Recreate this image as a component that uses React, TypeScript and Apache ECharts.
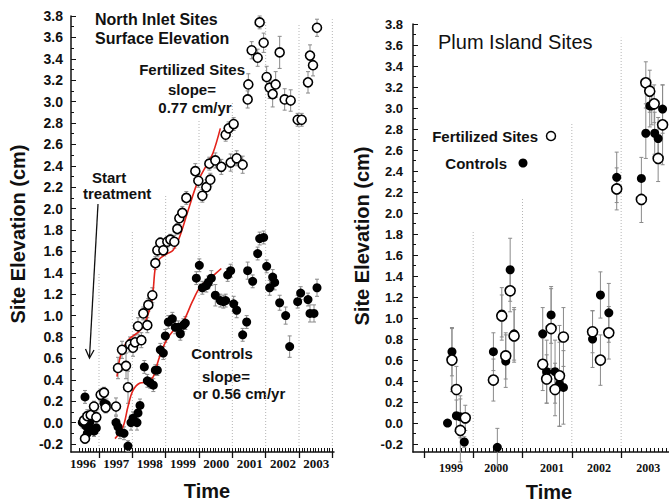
import React, { useEffect, useRef } from "react";
import * as echarts from "echarts";

// ---------- North Inlet (left panel): [time, elevation, error] ----------
const NI_FERT: number[][] = [
  [1996.55, 0.02, 0.06], [1996.58, -0.15, 0.04], [1996.65, 0.06, 0.06], [1996.75, 0.07, 0.05],
  [1996.85, 0.15, 0.05], [1996.92, 0.05, 0.06], [1997.05, 0.26, 0.05], [1997.15, 0.28, 0.05],
  [1997.2, 0.14, 0.05], [1997.51, 0.15, 0.08], [1997.57, 0.51, 0.1], [1997.69, 0.68, 0.08],
  [1997.81, 0.53, 0.12], [1997.87, 0.33, 0.15], [1997.93, 0.73, 0.07], [1998.02, 0.7, 0.08],
  [1998.08, 0.75, 0.07], [1998.17, 0.9, 0.08], [1998.27, 0.77, 0.07], [1998.33, 1.02, 0.06],
  [1998.45, 0.91, 0.07], [1998.48, 1.1, 0.06], [1998.6, 1.19, 0.07], [1998.69, 1.49, 0.06],
  [1998.75, 1.61, 0.06], [1998.84, 1.68, 0.05], [1998.93, 1.61, 0.05], [1999.05, 1.69, 0.05],
  [1999.14, 1.71, 0.05], [1999.26, 1.69, 0.06], [1999.35, 1.81, 0.05], [1999.41, 1.91, 0.06],
  [1999.5, 1.96, 0.06], [1999.62, 2.1, 0.06], [1999.89, 2.35, 0.07], [1999.98, 2.26, 0.06],
  [2000.1, 2.12, 0.06], [2000.22, 2.2, 0.07], [2000.34, 2.27, 0.06], [2000.31, 2.42, 0.06],
  [2000.49, 2.45, 0.07], [2000.67, 2.39, 0.07], [2000.8, 2.69, 0.06], [2000.89, 2.75, 0.06],
  [2001.04, 2.79, 0.06], [2000.95, 2.43, 0.08], [2001.13, 2.47, 0.07], [2001.31, 2.41, 0.08],
  [2001.46, 3.02, 0.08], [2001.48, 3.16, 0.1], [2001.58, 3.48, 0.08], [2001.76, 3.41, 0.08],
  [2001.82, 3.74, 0.06], [2001.94, 3.55, 0.09], [2002.03, 3.23, 0.1], [2002.12, 3.13, 0.1],
  [2002.21, 3.07, 0.12], [2002.3, 3.16, 0.12], [2002.42, 3.46, 0.15], [2002.57, 3.02, 0.1],
  [2002.75, 3.01, 0.1], [2002.96, 2.83, 0.06], [2003.08, 2.83, 0.06], [2003.27, 3.18, 0.1],
  [2003.33, 3.43, 0.1], [2003.42, 3.34, 0.1], [2003.54, 3.69, 0.08],
];

const NI_CTRL: number[][] = [
  [1996.5, 0.0, 0.05], [1996.58, 0.24, 0.06], [1996.6, -0.03, 0.05], [1996.65, -0.1, 0.05],
  [1996.72, 0.0, 0.05], [1996.78, -0.06, 0.04], [1996.85, -0.08, 0.05], [1996.92, -0.05, 0.05],
  [1997.05, 0.25, 0.05], [1997.1, 0.27, 0.05], [1997.15, 0.18, 0.06], [1997.22, 0.17, 0.05],
  [1997.51, 0.0, 0.06], [1997.57, -0.04, 0.07], [1997.63, -0.09, 0.06], [1997.75, -0.1, 0.06],
  [1997.87, -0.22, 0.05], [1997.96, 0.0, 0.07], [1998.02, 0.04, 0.06], [1998.14, 0.0, 0.07],
  [1998.17, 0.09, 0.06], [1998.23, 0.16, 0.06], [1998.36, 0.52, 0.06], [1998.45, 0.39, 0.06],
  [1998.54, 0.37, 0.05], [1998.63, 0.35, 0.06], [1998.69, 0.49, 0.05], [1998.75, 0.49, 0.05],
  [1998.84, 0.68, 0.06], [1998.93, 0.65, 0.06], [1998.99, 0.81, 0.06], [1999.08, 0.94, 0.06],
  [1999.2, 0.97, 0.06], [1999.29, 0.89, 0.06], [1999.38, 0.89, 0.06], [1999.44, 0.83, 0.06],
  [1999.53, 0.91, 0.06], [1999.59, 0.93, 0.06], [1999.92, 1.35, 0.06], [2000.01, 1.47, 0.06],
  [2000.1, 1.26, 0.06], [2000.22, 1.28, 0.06], [2000.28, 1.31, 0.06], [2000.37, 1.35, 0.07],
  [2000.49, 1.19, 0.1], [2000.64, 1.14, 0.06], [2000.73, 1.13, 0.06], [2000.8, 1.14, 0.06],
  [2000.86, 1.38, 0.06], [2000.95, 1.42, 0.06], [2001.04, 1.11, 0.07], [2001.13, 1.05, 0.07],
  [2001.31, 0.82, 0.06], [2001.43, 0.94, 0.06], [2001.46, 1.42, 0.08], [2001.61, 1.32, 0.06],
  [2001.76, 1.58, 0.06], [2001.82, 1.72, 0.06], [2001.94, 1.73, 0.06], [2002.03, 1.46, 0.06],
  [2002.12, 1.26, 0.07], [2002.21, 1.36, 0.07], [2002.27, 1.31, 0.07], [2002.42, 1.12, 0.07],
  [2002.6, 1.0, 0.08], [2002.72, 0.71, 0.1], [2002.96, 1.13, 0.06], [2003.05, 1.21, 0.06],
  [2003.27, 1.15, 0.06], [2003.33, 1.02, 0.08], [2003.45, 1.02, 0.08], [2003.54, 1.26, 0.08],
];

// red fitted curves
const NI_FIT_FERT: number[][] = [
  [1997.54, 0.43], [1997.65, 0.63], [1997.87, 0.77], [1998.23, 0.86], [1998.45, 0.99],
  [1998.6, 1.17], [1998.69, 1.45], [1998.78, 1.52], [1999.05, 1.58], [1999.22, 1.61],
  [1999.4, 1.72], [1999.67, 1.98], [1999.95, 2.24], [2000.25, 2.42], [2000.42, 2.52],
  [2000.64, 2.75],
];
const NI_FIT_CTRL: number[][] = [
  [1997.48, -0.15], [1997.72, -0.04], [1997.87, 0.15], [1998.02, 0.3], [1998.23, 0.37],
  [1998.45, 0.38], [1998.63, 0.43], [1998.78, 0.58], [1998.99, 0.75], [1999.23, 0.86],
  [1999.5, 0.93], [1999.8, 1.13], [2000.04, 1.27], [2000.34, 1.35], [2000.67, 1.44],
];

// ---------- Plum Island (right panel) ----------
const PI_FERT: number[][] = [
  [1999.57, 0.6, 0.3], [1999.66, 0.32, 0.22], [1999.74, -0.07, 0.3], [1999.84, 0.05, 0.12],
  [2000.41, 0.41, 0.2], [2000.58, 1.02, 0.2], [2000.66, 0.64, 0.22], [2000.75, 1.26, 0.2],
  [2000.83, 0.83, 0.25], [2001.41, 0.56, 0.25], [2001.49, 0.42, 0.23], [2001.58, 0.9, 0.38],
  [2001.66, 0.32, 0.25], [2001.75, 0.45, 0.48], [2001.83, 0.82, 0.28], [2002.42, 0.87, 0.2],
  [2002.58, 0.6, 0.24], [2002.75, 0.86, 0.25], [2002.91, 2.23, 0.2], [2003.41, 2.13, 0.22],
  [2003.5, 3.24, 0.2], [2003.58, 3.16, 0.2], [2003.67, 3.04, 0.18], [2003.75, 2.52, 0.22],
  [2003.84, 2.84, 0.38],
];
const PI_CTRL: number[][] = [
  [1999.48, 0.0, 0.03], [1999.57, 0.68, 0.23], [1999.66, 0.07, 0.15], [1999.74, 0.06, 0.2],
  [1999.82, -0.18, 0.05], [2000.41, 0.68, 0.18], [2000.49, -0.23, 0.18], [2000.58, 1.04, 0.25],
  [2000.66, 0.59, 0.25], [2000.75, 1.46, 0.3], [2000.83, 0.85, 0.25], [2001.41, 0.85, 0.25],
  [2001.49, 0.49, 0.3], [2001.58, 1.03, 0.27], [2001.66, 0.49, 0.3], [2001.75, 0.37, 0.4],
  [2001.83, 0.34, 0.35], [2002.42, 0.8, 0.27], [2002.58, 1.22, 0.22], [2002.75, 1.05, 0.28],
  [2002.91, 2.34, 0.24], [2003.41, 2.33, 0.2], [2003.5, 2.76, 0.24], [2003.58, 3.02, 0.2],
  [2003.62, 3.02, 0.18], [2003.68, 2.76, 0.2], [2003.75, 2.71, 0.2], [2003.84, 2.99, 0.23],
];

// ---------- axes ----------
const Y_LABELS = [-0.2, 0, 0.2, 0.4, 0.6, 0.8, 1.0, 1.2, 1.4, 1.6, 1.8, 2.0, 2.2, 2.4, 2.6, 2.8, 3.0, 3.2, 3.4, 3.6, 3.8];
const Y_MINOR = [-0.1, 0.1, 0.3, 0.5, 0.7, 0.9, 1.1, 1.3, 1.5, 1.7, 1.9, 2.1, 2.3, 2.5, 2.7, 2.9, 3.1, 3.3, 3.5, 3.7];
const NI_YEAR_LABELS = [1996.52, 1997.52, 1998.52, 1999.52, 2000.52, 2001.52, 2002.52, 2003.52];
const NI_YEAR_BOUNDS = [1997, 1998, 1999, 2000, 2001, 2002, 2003, 2004];
const NI_GRID_TOPS = [1.4, 1.8, 2.13, 2.83, 3.0, 3.75, 3.72, 3.77];
const PI_YEAR_LABELS = [1999.55, 2000.47, 2001.6, 2002.55, 2003.55];
const PI_YEAR_BOUNDS = [1999, 2000, 2001, 2002, 2003];
const PI_GRID_LINES = [2000, 2001, 2002, 2003];
const PI_GRID_TOPS = [1.83, 2.15, 2.85, 3.67];

const NI_X = [1996.16, 2004.05];
const PI_X = [1998.78, 2003.97];
const Y_MIN = -0.275;
const Y_MAX = 3.8;

const INK = "#111";
const SANS = '"Liberation Sans", Arial, sans-serif';
const SERIF = '"Liberation Serif", "Times New Roman", serif';

function monthTicks(from: number, to: number) {
  const out: number[] = [];
  for (let k = Math.ceil(from * 12); k <= Math.floor(to * 12); k++) out.push(k / 12);
  return out;
}

function xMain(gridIndex: number, range: number[], tickFrom: number, labels: number[], fontSize: number, margin: number) {
  return {
    type: "value", gridIndex, min: range[0], max: range[1],
    axisLine: { show: true, onZero: false, lineStyle: { color: INK, width: 1.5 } },
    axisTick: { show: true, inside: true, length: 4, customValues: monthTicks(tickFrom, range[1]), lineStyle: { color: INK, width: 1 } },
    axisLabel: {
      show: true, customValues: labels, margin,
      formatter: (v: number) => String(Math.floor(v + 1e-6)),
      fontFamily: SERIF, fontWeight: "bold", fontSize, color: INK,
    },
    splitLine: { show: false },
  };
}
function xMajor(gridIndex: number, range: number[], bounds: number[]) {
  return {
    type: "value", gridIndex, min: range[0], max: range[1], position: "bottom",
    axisLine: { show: false, onZero: false },
    axisTick: { show: true, inside: false, length: 6, customValues: bounds, lineStyle: { color: INK, width: 1.3 } },
    axisLabel: { show: false },
    splitLine: { show: false },
  };
}
function yMain(gridIndex: number, fontSize: number, margin: number) {
  return {
    type: "value", gridIndex, min: Y_MIN, max: Y_MAX,
    axisLine: { show: true, onZero: false, lineStyle: { color: INK, width: 1.5 } },
    axisTick: { show: true, inside: true, length: 5, customValues: Y_LABELS, lineStyle: { color: INK, width: 1 } },
    axisLabel: {
      show: true, customValues: Y_LABELS, margin,
      formatter: (v: number) => v.toFixed(1),
      fontFamily: SANS, fontWeight: "bold", fontSize, color: INK,
    },
    splitLine: { show: false },
  };
}
function yMinor(gridIndex: number) {
  return {
    type: "value", gridIndex, min: Y_MIN, max: Y_MAX, position: "left",
    axisLine: { show: false, onZero: false },
    axisTick: { show: true, inside: true, length: 3, customValues: Y_MINOR, lineStyle: { color: INK, width: 1 } },
    axisLabel: { show: false },
    splitLine: { show: false },
  };
}

function errorBars(xi: number, yi: number, data: number[][]) {
  return {
    type: "custom", xAxisIndex: xi, yAxisIndex: yi, z: 1, silent: true,
    data,
    encode: { x: 0, y: 1 },
    renderItem: (_p: any, api: any) => {
      const t = api.value(0), v = api.value(1), e = api.value(2);
      const top = api.coord([t, v + e]);
      const bot = api.coord([t, v - e]);
      const st = { stroke: "#8a8a8a", lineWidth: 1 };
      return {
        type: "group",
        children: [
          { type: "line", shape: { x1: top[0], y1: top[1], x2: bot[0], y2: bot[1] }, style: st },
          { type: "line", shape: { x1: top[0] - 2, y1: top[1], x2: top[0] + 2, y2: top[1] }, style: st },
          { type: "line", shape: { x1: bot[0] - 2, y1: bot[1], x2: bot[0] + 2, y2: bot[1] }, style: st },
        ],
      };
    },
  };
}
function gridLines(xi: number, yi: number, bounds: number[], tops: number[]) {
  return {
    type: "custom", xAxisIndex: xi, yAxisIndex: yi, z: 0, silent: true,
    data: bounds.map((b, i) => [b, tops[i]]),
    encode: { x: 0, y: 1 },
    renderItem: (_p: any, api: any) => {
      const a = api.coord([api.value(0), Y_MIN]);
      const b = api.coord([api.value(0), api.value(1)]);
      return {
        type: "line",
        shape: { x1: a[0], y1: a[1], x2: b[0], y2: b[1] },
        style: { stroke: "#b5b5b5", lineWidth: 1, lineDash: [1, 2] },
      };
    },
  };
}
function openPts(xi: number, yi: number, data: number[][], size: number) {
  return {
    type: "scatter", xAxisIndex: xi, yAxisIndex: yi, z: 4, silent: true,
    data: data.map((d) => [d[0], d[1]]), symbol: "circle", symbolSize: size,
    itemStyle: { color: "#fff", borderColor: "#000", borderWidth: 1.6, opacity: 1 },
  };
}
function filledPts(xi: number, yi: number, data: number[][], size: number) {
  return {
    type: "scatter", xAxisIndex: xi, yAxisIndex: yi, z: 3, silent: true,
    data: data.map((d) => [d[0], d[1]]), symbol: "circle", symbolSize: size,
    itemStyle: { color: "#000", opacity: 1 },
  };
}
function fitLine(data: number[][]) {
  return {
    type: "line", xAxisIndex: 0, yAxisIndex: 0, z: 2, silent: true,
    data, smooth: 0.35, showSymbol: false, symbol: "none",
    lineStyle: { color: "#e3231b", width: 1.6 },
  };
}

function txt(text: string, x: number, y: number, font: string, align = "left", rotation = 0) {
  return {
    type: "text", x, y, rotation, silent: true,
    style: {
      text, font, fill: INK,
      textAlign: align, textVerticalAlign: "middle",
      align, verticalAlign: "middle",
    },
  };
}

export default function App() {
  const ref = useRef<HTMLDivElement>(null);
  useEffect(() => {
    document.body.style.margin = "0";
    if (!ref.current) return;
    const chart = echarts.init(ref.current, undefined, { renderer: "svg" });
    const B15 = `bold 15px ${SANS}`;
    const B16 = `bold 16px ${SANS}`;
    const B20 = `bold 20px ${SANS}`;
    chart.setOption({
      animation: false,
      backgroundColor: "#fff",
      grid: [
        { left: 71, top: 16, width: 263, height: 436, containLabel: false },
        { left: 413, top: 24, width: 256, height: 428, containLabel: false },
      ],
      xAxis: [
        xMain(0, NI_X, 1996.4, NI_YEAR_LABELS, 13, 5),
        xMajor(0, NI_X, NI_YEAR_BOUNDS),
        xMain(1, PI_X, 1999.0, PI_YEAR_LABELS, 12, 10),
        xMajor(1, PI_X, PI_YEAR_BOUNDS),
      ],
      yAxis: [yMain(0, 14, 8), yMinor(0), yMain(1, 13, 10), yMinor(1)],
      series: [
        gridLines(0, 0, NI_YEAR_BOUNDS, NI_GRID_TOPS),
        errorBars(0, 0, NI_FERT),
        errorBars(0, 0, NI_CTRL),
        fitLine(NI_FIT_FERT),
        fitLine(NI_FIT_CTRL),
        filledPts(0, 0, NI_CTRL, 9),
        openPts(0, 0, NI_FERT, 9),
        gridLines(2, 2, PI_GRID_LINES, PI_GRID_TOPS),
        errorBars(2, 2, PI_FERT),
        errorBars(2, 2, PI_CTRL),
        filledPts(2, 2, PI_CTRL, 9),
        openPts(2, 2, PI_FERT, 10),
      ],
      graphic: [
        // left panel annotations
        txt("North Inlet Sites", 95, 19, B16),
        txt("Surface Elevation", 95, 38, B16),
        txt("Fertilized Sites", 245, 69, B15, "right"),
        txt("slope=", 192, 89, B15, "center"),
        txt("0.77 cm/yr", 195, 107, B15, "center"),
        txt("Start", 92, 177, B15),
        txt("treatment", 83, 193, B15),
        txt("Controls", 222, 353, B15, "center"),
        txt("slope=", 226, 376, B15, "center"),
        txt("or 0.56 cm/yr", 239, 393, B15, "center"),
        { type: "line", silent: true, shape: { x1: 98, y1: 204, x2: 89.5, y2: 357 }, style: { stroke: INK, lineWidth: 1.3 } },
        { type: "polyline", silent: true, shape: { points: [[85.5, 349], [89.5, 358], [94, 350]] }, style: { stroke: INK, lineWidth: 1.3, fill: "none" } },
        txt("Site Elevation (cm)", 18, 234, B20, "center", Math.PI / 2),
        txt("Time", 207, 491, B20, "center"),
        // right panel annotations
        txt("Plum Island Sites", 438, 42, `20px ${SANS}`),
        txt("Fertilized Sites", 538, 136, B15, "right"),
        { type: "circle", silent: true, shape: { cx: 551, cy: 136, r: 4.5 }, style: { fill: "#fff", stroke: "#000", lineWidth: 1.5 } },
        txt("Controls", 507, 163, B15, "right"),
        { type: "circle", silent: true, shape: { cx: 523, cy: 163, r: 4.5 }, style: { fill: "#000" } },
        txt("Site Elevation (cm)", 362, 236, B20, "center", Math.PI / 2),
        txt("Time", 549, 492, B20, "center"),
      ],
    });
    return () => chart.dispose();
  }, []);
  return <div ref={ref} style={{ width: 669, height: 504 }} />;
}
